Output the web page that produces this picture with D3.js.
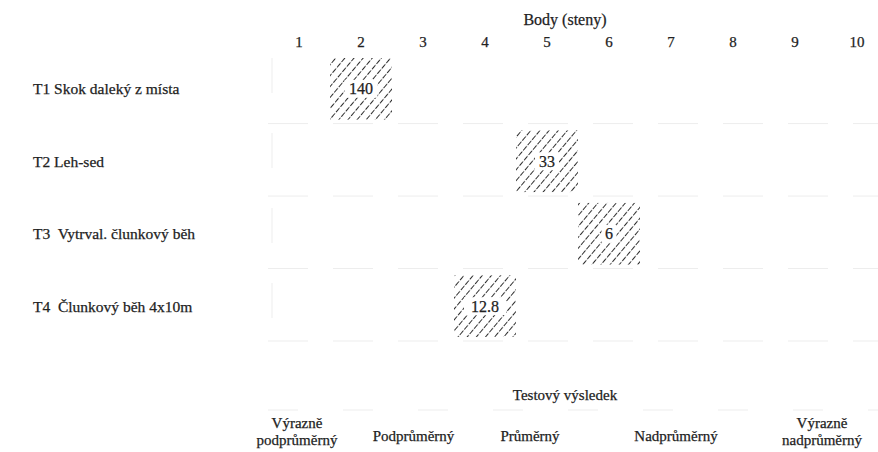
<!DOCTYPE html>
<html>
<head>
<meta charset="utf-8">
<script src="https://cdn.jsdelivr.net/npm/d3@7"></script>
<style>
  body { margin: 0; background: #fff; }
  svg text { font-family: "Liberation Serif", "Times New Roman", serif; white-space: pre; stroke: #222; stroke-width: 0.25px; }
</style>
</head>
<body>
<svg id="chart" width="878" height="452"></svg>
<script>
// Tests (rows), point columns, result per test
const tests = ["T1 Skok daleký z místa", "T2 Leh-sed", "T3  Vytrval. člunkový běh", "T4  Člunkový běh 4x10m"];
const points = ["1", "2", "3", "4", "5", "6", "7", "8", "9", "10"];
const testPoints = ["2", "5", "6", "4"];
const testValues = ["140", "33", "6", "12.8"];
const categories = [["Výrazně", "podprůměrný"], ["Podprůměrný"], ["Průměrný"], ["Nadprůměrný"], ["Výrazně", "nadprůměrný"]];

const ink = "#222";
const svg = d3.select("#chart");

const x = d3.scaleBand().domain(points).range([268, 888]);
const y = d3.scaleBand().domain(tests).range([58, 337]).paddingInner(0.15);
// category labels sit unevenly in the scan
const cat = d3.scaleLinear().domain([0, 2, 4]).range([297, 530, 822]);

// hatch pattern
const defs = svg.append("defs");
const hatch = defs.append("pattern")
  .attr("id", "hatch")
  .attr("patternUnits", "userSpaceOnUse")
  .attr("width", 7)
  .attr("height", 7)
  .attr("patternTransform", "rotate(40)");
hatch.append("line")
  .attr("x1", 0).attr("y1", -2)
  .attr("x2", 0).attr("y2", 9)
  .attr("stroke", "#222")
  .attr("stroke-width", 1.9)
  .attr("stroke-dasharray", "5 1.5");

// faint scan grid
const grid = svg.append("g").attr("stroke", "#ededed").attr("stroke-width", 1);
grid.selectAll("line.h")
  .data(tests)
  .join("line")
  .attr("class", "h")
  .attr("x1", 268).attr("x2", 878)
  .attr("y1", d => y(d) + y.bandwidth() + 4)
  .attr("y2", d => y(d) + y.bandwidth() + 4)
  .attr("stroke-dasharray", "40 25");
grid.append("line")
  .attr("x1", 272).attr("x2", 272)
  .attr("y1", y.range()[0]).attr("y2", y.range()[1])
  .attr("stroke-dasharray", "35 40");

// top axis title + ticks
svg.append("text")
  .attr("x", 565).attr("y", 25)
  .attr("text-anchor", "middle")
  .attr("font-size", 16)
  .attr("fill", ink)
  .text("Body (steny)");

const xAxis = svg.append("g")
  .attr("transform", "translate(0,50)")
  .call(d3.axisTop(x).tickSize(0).tickPadding(3));
xAxis.select(".domain").remove();
xAxis.attr("font-family", null).attr("font-size", null);
xAxis.selectAll("text")
  .attr("font-size", 15)
  .attr("fill", ink);

// row labels
svg.append("g")
  .selectAll("text")
  .data(tests)
  .join("text")
  .attr("x", 33)
  .attr("y", d => y(d) + y.bandwidth() / 2)
  .attr("dy", "0.35em")
  .attr("font-size", 15.5)
  .attr("fill", ink)
  .text(d => d);

// hatched result boxes
const marks = svg.append("g")
  .selectAll("g")
  .data(tests.map((t, i) => ({ test: t, point: testPoints[i], value: testValues[i] })))
  .join("g");

marks.append("rect")
  .attr("x", d => x(d.point))
  .attr("y", d => y(d.test))
  .attr("width", x.bandwidth())
  .attr("height", y.bandwidth())
  .attr("fill", "url(#hatch)");

marks.append("rect")
  .attr("x", d => x(d.point) + x.bandwidth() / 2 - (d.value.length * 4.5 + 3))
  .attr("y", d => y(d.test) + y.bandwidth() / 2 - 9)
  .attr("width", d => d.value.length * 9 + 6)
  .attr("height", 18)
  .attr("fill", "#fff");

marks.append("text")
  .attr("x", d => x(d.point) + x.bandwidth() / 2)
  .attr("y", d => y(d.test) + y.bandwidth() / 2)
  .attr("dy", "0.35em")
  .attr("text-anchor", "middle")
  .attr("font-size", 16)
  .attr("fill", ink)
  .text(d => d.value);

// bottom axis title
svg.append("text")
  .attr("x", 565).attr("y", 400)
  .attr("text-anchor", "middle")
  .attr("font-size", 15)
  .attr("fill", ink)
  .text("Testový výsledek");

svg.append("line")
  .attr("x1", 268).attr("x2", 878)
  .attr("y1", 410).attr("y2", 410)
  .attr("stroke", "#ededed")
  .attr("stroke-dasharray", "30 45");

// category labels
const catText = svg.append("g")
  .selectAll("text")
  .data(categories)
  .join("text")
  .attr("x", (d, i) => cat(i))
  .attr("y", d => d.length > 1 ? 428 : 441)
  .attr("text-anchor", "middle")
  .attr("font-size", 15)
  .attr("fill", ink);

catText.selectAll("tspan")
  .data(d => d)
  .join("tspan")
  .attr("x", function () { return d3.select(this.parentNode).attr("x"); })
  .attr("dy", (d, i) => i === 0 ? 0 : 17)
  .text(d => d);
</script>
</body>
</html>
